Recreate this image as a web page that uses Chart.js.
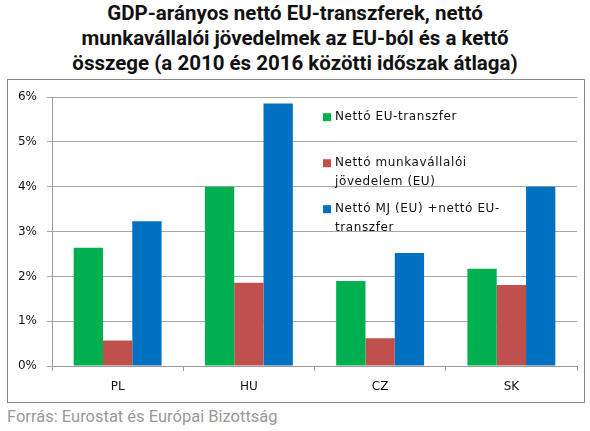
<!DOCTYPE html>
<html>
<head>
<meta charset="utf-8">
<script src="https://cdn.jsdelivr.net/npm/chart.js@4"></script>
<style>
  body { margin: 0; background: #fff; }
  #wrap { position: relative; width: 590px; height: 431px; }
  #title {
    position: absolute; left: 0; top: 0; width: 590px;
    text-align: center; font-family: Roboto, sans-serif; font-weight: bold;
    font-size: 20.5px; line-height: 25px; color: #111; padding-top: 1px;
  }
  #box {
    position: absolute; left: 7px; top: 79px; width: 576px; height: 322px;
    border: 1px solid #888;
  }
  #source {
    position: absolute; left: 7px; top: 407px;
    font-family: Roboto, sans-serif; font-size: 16.5px; color: #999;
  }
</style>
</head>
<body>
<div id="wrap">
  <div id="title">GDP-arányos nettó EU-transzferek, nettó<br>munkavállalói jövedelmek az EU-ból és a kettő<br>összege (a 2010 és 2016 közötti időszak átlaga)</div>
  <div id="box"><canvas id="myChart" width="576" height="322"></canvas></div>
  <div id="source">Forrás: Eurostat és Európai Bizottság</div>
</div>
<script>
// countries and series (values in % of GDP)
const countries = ['PL', 'HU', 'CZ', 'SK'];
const euTransfer = [2.64, 4.0, 1.90, 2.17];
const workerIncome = [0.57, 1.86, 0.62, 1.81];
const combined = [3.23, 5.86, 2.52, 4.0];
const seriesNames = [
    ['Nettó EU-transzfer'],
    ['Nettó munkavállalói', 'jövedelem (EU)'],
    ['Nettó MJ (EU) +nettó EU-', 'transzfer']
];
const yTicks = [0, 1, 2, 3, 4, 5, 6];

const colors = ['#00B050', '#C0504D', '#0070C0'];

// legend drawn inside the plot, lines wrapped like the original
const insideLegend = {
    id: 'insideLegend',
    afterDraw(chart) {
        const c = chart.ctx;
        const area = chart.chartArea;
        const x0 = area.left + 271;
        const rows = [20, 66, 112];
        c.save();
        c.font = '12px "DejaVu Sans"';
        c.letterSpacing = '0.6px';
        c.textBaseline = 'middle';
        chart.data.datasets.forEach((ds, i) => {
            const y = area.top + rows[i];
            c.fillStyle = ds.backgroundColor;
            c.fillRect(x0, y - 4, 8, 8);
            c.fillStyle = '#111';
            seriesNames[i].forEach((line, j) => {
                c.fillText(line, x0 + 12, y + j * 19);
            });
        });
        c.restore();
    }
};

const ctx = document.getElementById('myChart').getContext('2d');
const myChart = new Chart(ctx, {
    type: 'bar',
    data: {
        labels: countries,
        datasets: [euTransfer, workerIncome, combined].map((vals, i) => {
            return {
                label: seriesNames[i].join(' '),
                data: vals,
                backgroundColor: colors[i],
                borderWidth: 0,
                categoryPercentage: 0.67,
                barPercentage: 1.0
            };
        })
    },
    options: {
        responsive: false,
        animation: false,
        layout: { padding: { top: 15, right: 7, left: 0, bottom: 0 } },
        scales: {
            x: {
                afterFit(scale) { scale.height = 36; },
                grid: { drawOnChartArea: false, tickLength: 5, color: '#999' },
                border: { color: '#999' },
                ticks: { padding: 9, color: '#111', font: { family: 'DejaVu Sans', size: 12 } }
            },
            y: {
                min: 0,
                max: 6,
                afterFit(scale) { scale.width = 44; },
                afterBuildTicks(scale) { scale.ticks = yTicks.map(v => ({ value: v })); },
                grid: { tickLength: 5, color: '#a6a6a6' },
                border: { color: '#999' },
                ticks: {
                    padding: 10,
                    color: '#111',
                    font: { family: 'DejaVu Sans', size: 12 },
                    callback: v => v + '%'
                }
            }
        },
        plugins: {
            legend: { display: false },
            tooltip: { enabled: false }
        }
    },
    plugins: [insideLegend]
});
</script>
</body>
</html>
